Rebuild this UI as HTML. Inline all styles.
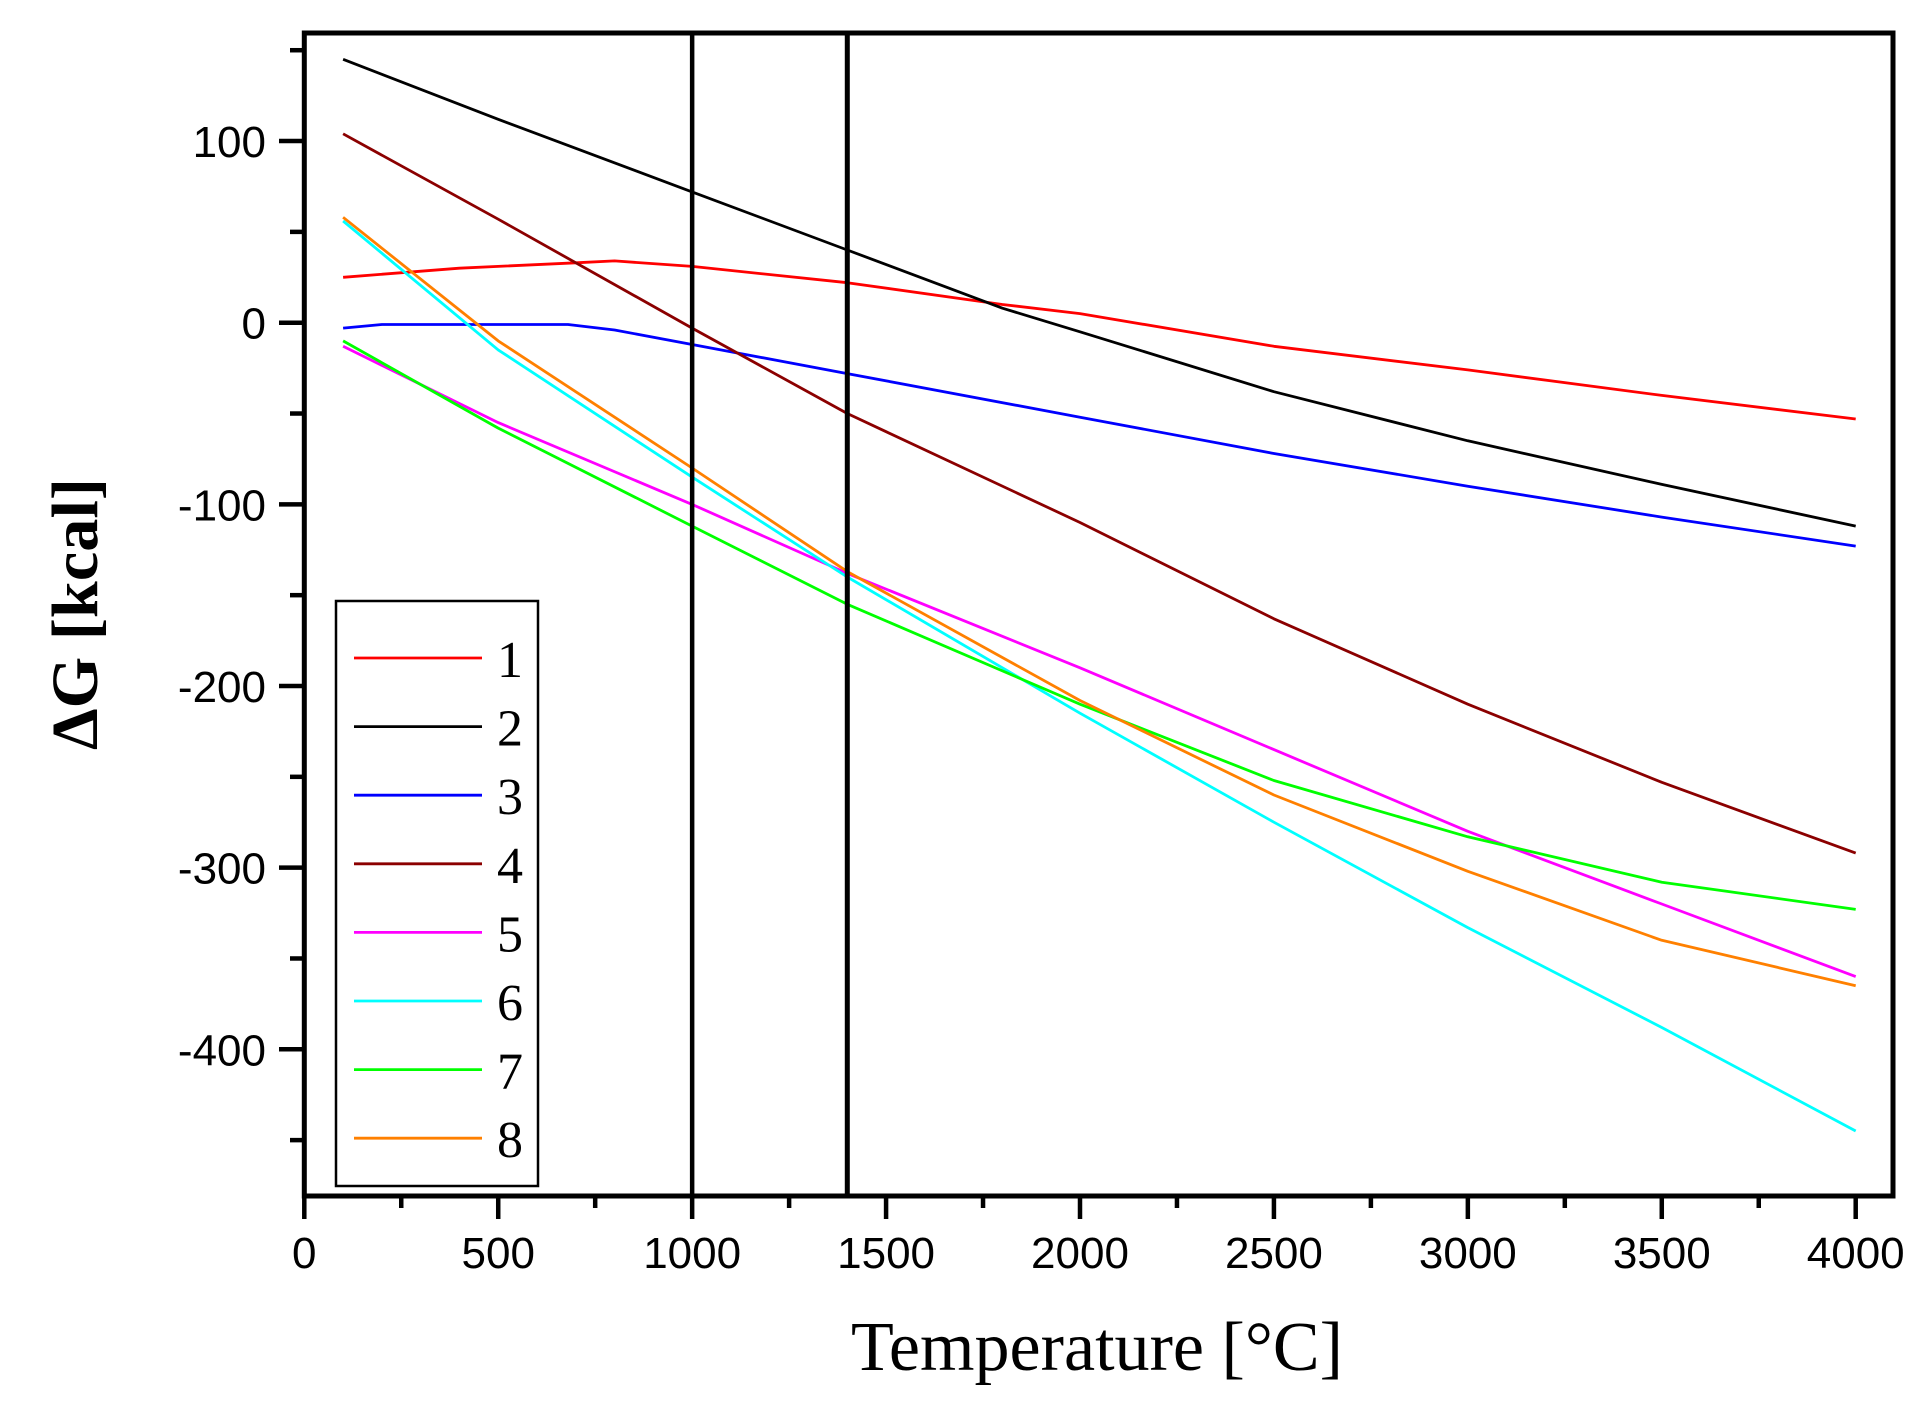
<!DOCTYPE html>
<html><head><meta charset="utf-8"><style>html,body{margin:0;padding:0;background:#fff}svg{display:block}</style></head>
<body>
<svg id="s" width="1923" height="1402" xmlns="http://www.w3.org/2000/svg">
<rect width="1923" height="1402" fill="#fff"/>
<g id="plot"></g>
<g font-family="Liberation Sans, Arial, sans-serif" font-size="44" fill="#000" id="lab"></g>
<text x="1097" y="1370" font-family="Liberation Serif, serif" font-size="70" text-anchor="middle" textLength="492" lengthAdjust="spacingAndGlyphs">Temperature [°C]</text>
<text transform="translate(97,614) rotate(-90)" font-family="Liberation Serif, serif" font-weight="bold" font-size="66" text-anchor="middle" textLength="272" lengthAdjust="spacingAndGlyphs">ΔG [kcal]</text>
</svg>
<script>
var NS="http://www.w3.org/2000/svg";
var X0=304.3,XS=0.38785,Y0=322.7,YS=1.8165;
function px(t){return X0+t*XS}function py(g){return Y0-g*YS}
var plot=document.getElementById('plot'),lab=document.getElementById('lab');
function el(n,a,p){var e=document.createElementNS(NS,n);for(var k in a)e.setAttribute(k,a[k]);(p||plot).appendChild(e);return e}
var data=[
["#ff0000",[[100,25],[400,30],[700,33],[800,34],[1000,31],[1400,22],[1800,10],[2000,5],[2500,-13],[3000,-26],[3500,-40],[4000,-53]]],
["#000000",[[100,145],[500,112],[1000,72],[1400,40],[1800,8],[2000,-5],[2500,-38],[3000,-65],[3500,-89],[4000,-112]]],
["#0000ff",[[100,-3],[200,-1],[680,-1],[800,-4],[1000,-12],[1400,-28],[2000,-52],[2500,-72],[3000,-90],[3500,-107],[4000,-123]]],
["#8b0000",[[100,104],[500,57],[1000,-3],[1400,-50],[1500,-60],[2000,-110],[2500,-163],[3000,-210],[3500,-253],[4000,-292]]],
["#ff00ff",[[100,-13],[500,-55],[1000,-100],[1400,-138],[2000,-190],[2500,-235],[3000,-280],[3500,-320],[4000,-360]]],
["#00ffff",[[100,56],[500,-15],[1000,-85],[1400,-140],[2000,-215],[2500,-275],[3000,-333],[3500,-388],[4000,-445]]],
["#00ff00",[[100,-10],[500,-58],[1000,-112],[1400,-155],[2000,-210],[2500,-252],[3000,-283],[3500,-308],[4000,-323]]],
["#ff8000",[[100,58],[500,-10],[1000,-80],[1400,-137],[2000,-208],[2500,-260],[3000,-302],[3500,-340],[4000,-365]]]];
data.forEach(function(d){el('polyline',{points:d[1].map(function(p){return px(p[0]).toFixed(1)+','+py(p[1]).toFixed(1)}).join(' '),fill:'none',stroke:d[0],'stroke-width':2.8,'stroke-linejoin':'round'})});
el('line',{x1:px(1000),y1:33,x2:px(1000),y2:1196,stroke:'#000','stroke-width':4.5});
el('line',{x1:px(1400),y1:33,x2:px(1400),y2:1196,stroke:'#000','stroke-width':5});
el('rect',{x:304.3,y:33,width:1588.7,height:1163,fill:'none',stroke:'#000','stroke-width':5});
for(var t=0;t<=4000;t+=250){var maj=t%500==0;el('line',{x1:px(t),y1:1196,x2:px(t),y2:maj?1219:1208,stroke:'#000','stroke-width':4.5});
if(maj){var tx=el('text',{x:px(t),y:1268,'text-anchor':'middle'},lab);tx.textContent=t;}}
for(var g=-450;g<=150;g+=50){var maj=g%100==0;el('line',{x1:maj?279:290,y1:py(g),x2:304,y2:py(g),stroke:'#000','stroke-width':4.5});
if(maj){var ty=el('text',{x:266,y:py(g)+16,'text-anchor':'end'},lab);ty.textContent=g;}}
el('rect',{x:336,y:601,width:202,height:585,fill:'#fff',stroke:'#000','stroke-width':2.5});
data.forEach(function(d,i){var y=658+i*68.6;el('line',{x1:354,y1:y,x2:482,y2:y,stroke:d[0],'stroke-width':2.8});
var tt=el('text',{x:510,y:y+19,'text-anchor':'middle','font-family':'Liberation Serif, serif','font-size':52});tt.textContent=i+1;});
</script>
</body></html>
